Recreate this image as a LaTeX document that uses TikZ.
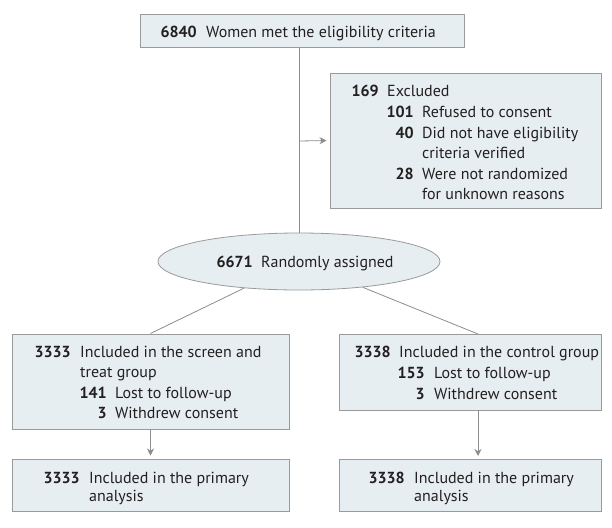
\documentclass[tikz,border=0pt]{standalone}
\usepackage{fontspec}
\setmainfont{PT Sans}
\usetikzlibrary{arrows.meta,shapes.geometric,calc}
\definecolor{boxfill}{HTML}{E6EEF2}
\definecolor{boxline}{HTML}{9A9A9A}
\definecolor{conn}{HTML}{8C8C8C}
\definecolor{txt}{HTML}{231F20}
\tikzset{
  box/.style={draw=boxline, line width=1pt, fill=boxfill, rectangle, inner sep=0pt},
  ell/.style={draw=boxline, line width=0.8pt, fill=boxfill, ellipse, inner sep=0pt},
  num/.style={anchor=base east, inner sep=0pt, text=txt, font=\fontsize{16}{19}\selectfont\bfseries},
  lbl/.style={anchor=base west, inner sep=0pt, text=txt, font=\fontsize{16}{19}\selectfont},
  link/.style={draw=conn, line width=0.8pt},
  arr/.style={link, -{Stealth[length=7pt,width=7pt]}, shorten >=3pt}
}
\begin{document}
\begin{tikzpicture}[x=1pt,y=-1pt]
\useasboundingbox (0,0) rectangle (612,527);
% boxes
\node[box, minimum width=324pt, minimum height=33pt] (top) at (302,31.5) {};
\node[box, minimum width=271pt, minimum height=135pt] (excl) at (465.5,140.5) {};
\node[ell, minimum width=282pt, minimum height=57pt] (rand) at (299,261.5) {};
\node[box, minimum width=277pt, minimum height=95pt] (l1) at (150.5,381.5) {};
\node[box, minimum width=262pt, minimum height=76pt] (r1) at (470,372) {};
\node[box, minimum width=277pt, minimum height=52pt] (l2) at (150.5,485) {};
\node[box, minimum width=262pt, minimum height=52pt] (r2) at (470,485) {};
% connectors
\coordinate (split) at (299,141);
\coordinate (rtop) at (478,334);
\coordinate (rbot) at (478,410);
\coordinate (r2top) at (478,459);
\draw[link] (top.south -| split) -- (rand.north);
\draw[arr] (split) -- (excl.west);
\draw[link] (rand) -- (l1.north);
\draw[link] (rand) -- (rtop);
\draw[arr] (l1.south) -- (l2.north);
\draw[arr] (rbot) -- (r2top);
% texts: top
\node[num] (t1n) at (197,37.7) {6840};
\node[lbl] (t1t) at (206,37.7) {Women met the eligibility criteria};
% excluded
\node[num] (e1n) at (379,96) {169};
\node[lbl] (e1t) at (387,96) {Excluded};
\node[num] (e2n) at (414,117.5) {101};
\node[lbl] (e2t) at (422,117.5) {Refused to consent};
\node[num] (e3n) at (414,138) {40};
\node[lbl] (e3t) at (422,138) {Did not have eligibility};
\node[lbl] (e3u) at (422,158.5) {criteria verified};
\node[num] (e4n) at (414,179) {28};
\node[lbl] (e4t) at (422,179) {Were not randomized};
\node[lbl] (e4u) at (422,199) {for unknown reasons};
% randomized
\node[num] (rn) at (253,267) {6671};
\node[lbl] (rt) at (261,267) {Randomly assigned};
% left group
\node[num] (l1n) at (71,357) {3333};
\node[lbl] (l1t) at (80,357) {Included in the screen and};
\node[lbl] (l1u) at (80,377.5) {treat group};
\node[num] (l2n) at (107,398) {141};
\node[lbl] (l2t) at (115,398) {Lost to follow-up};
\node[num] (l3n) at (107,418.5) {3};
\node[lbl] (l3t) at (115,418.5) {Withdrew consent};
\node[num] (lan) at (80,483) {3333};
\node[lbl] (lat) at (89,483) {Included in the primary};
\node[lbl] (lau) at (89,501.5) {analysis};
% right group
\node[num] (r1n) at (391,357) {3338};
\node[lbl] (r1t) at (399,357) {Included in the control group};
\node[num] (r2n) at (425,378) {153};
\node[lbl] (r2t) at (434,378) {Lost to follow-up};
\node[num] (r3n) at (425,399) {3};
\node[lbl] (r3t) at (434,399) {Withdrew consent};
\node[num] (ran) at (405,483) {3338};
\node[lbl] (rat) at (414,483) {Included in the primary};
\node[lbl] (rau) at (414,501.5) {analysis};
\end{tikzpicture}
\end{document}
